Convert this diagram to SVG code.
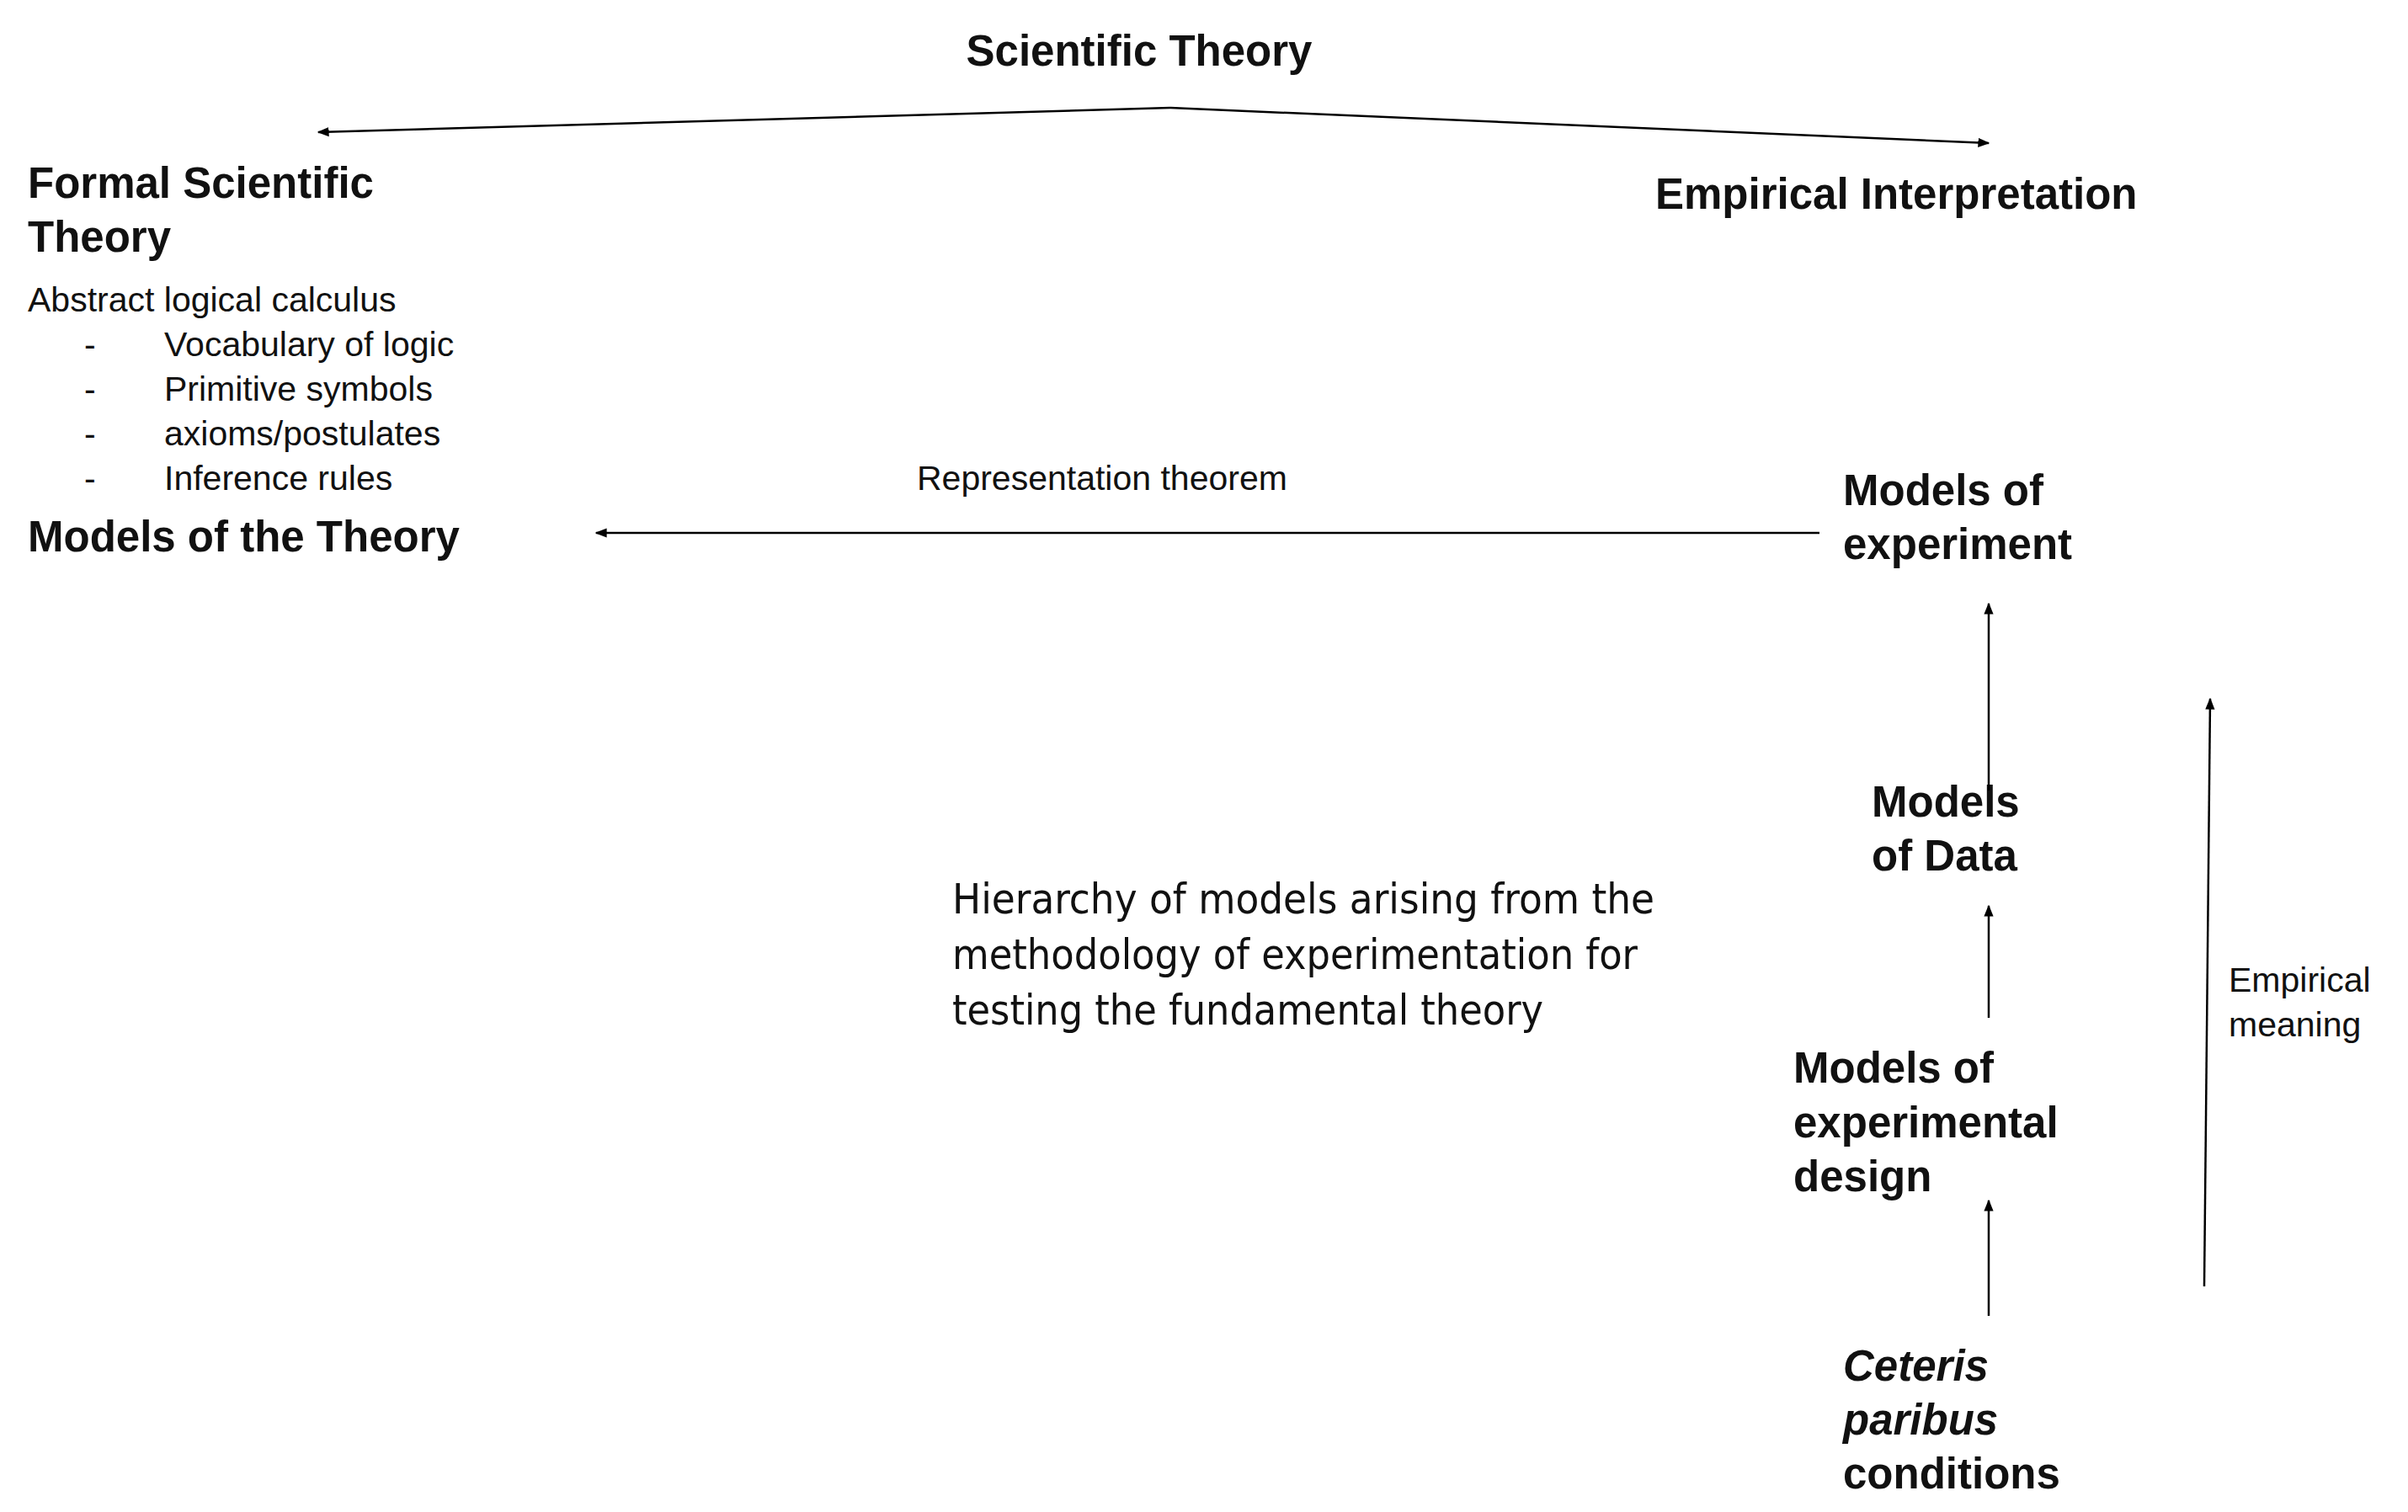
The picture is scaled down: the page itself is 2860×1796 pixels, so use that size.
<svg xmlns="http://www.w3.org/2000/svg" width="2860" height="1796" viewBox="0 0 2860 1796">
<defs>
<marker id="ah" viewBox="0 0 10 10" refX="9" refY="5" markerWidth="14" markerHeight="14" markerUnits="userSpaceOnUse" orient="auto"><path d="M0,1 L10,5 L0,9 z" fill="#000"/></marker>
<style>
.b{font-family:"Liberation Sans",Arial,sans-serif;font-weight:bold;font-size:51px;fill:#111}
.r{font-family:"Liberation Sans",Arial,sans-serif;font-size:41px;fill:#111}
.c{font-family:"DejaVu Sans Condensed","DejaVu Sans",sans-serif;font-stretch:condensed;font-size:50px;fill:#111}
.l{stroke:#000;stroke-width:2.5;fill:none;marker-end:url(#ah)}
</style>
</defs>
<rect width="2860" height="1796" fill="#fff"/>
<g id="title"><text class="b" x="1353" y="78" text-anchor="middle" font-size="56">Scientific Theory</text></g>
<g id="formal"><text class="b" x="33" y="235">Formal Scientific</text><text class="b" x="33" y="299">Theory</text></g>
<g id="calculus">
<text class="r" x="33" y="370">Abstract logical calculus</text>
<text class="r" x="100" y="423">-</text><text class="r" x="195" y="423">Vocabulary of logic</text>
<text class="r" x="100" y="476">-</text><text class="r" x="195" y="476">Primitive symbols</text>
<text class="r" x="100" y="529">-</text><text class="r" x="195" y="529">axioms/postulates</text>
<text class="r" x="100" y="582">-</text><text class="r" x="195" y="582">Inference rules</text>
</g>
<g id="empirical"><text class="b" x="1966" y="248">Empirical Interpretation</text></g>
<g id="modelsTheory"><text class="b" x="33" y="655">Models of the Theory</text></g>
<g id="modelsExperiment"><text class="b" x="2189" y="600">Models of</text><text class="b" x="2189" y="664">experiment</text></g>
<g id="modelsData"><text class="b" x="2223" y="970">Models</text><text class="b" x="2223" y="1034">of Data</text></g>
<g id="modelsDesign"><text class="b" x="2130" y="1286">Models of</text><text class="b" x="2130" y="1351">experimental</text><text class="b" x="2130" y="1415">design</text></g>
<g id="ceteris"><text class="b" x="2189" y="1640" font-style="italic">Ceteris</text><text class="b" x="2189" y="1704" font-style="italic">paribus</text><text class="b" x="2189" y="1768">conditions</text></g>
<g id="hierarchy">
<text class="c" x="1131" y="1085" textLength="834" lengthAdjust="spacingAndGlyphs">Hierarchy of models arising from the</text>
<text class="c" x="1131" y="1151" textLength="814" lengthAdjust="spacingAndGlyphs">methodology of experimentation for</text>
<text class="c" x="1131" y="1217" textLength="702" lengthAdjust="spacingAndGlyphs">testing the fundamental theory</text>
</g>
<g id="connectors">
<path class="l" d="M1390,128 L378,157"/>
<path class="l" d="M1390,128 L2362,170"/>
<path class="l" d="M2161,633 L708,633"/>
<path class="l" d="M2362,939 L2362,717"/>
<path class="l" d="M2362,1209 L2362,1076"/>
<path class="l" d="M2362,1563 L2362,1426"/>
<path class="l" d="M2618,1528 L2625,830"/>
<text class="r" x="1089" y="582">Representation theorem</text>
<text class="r" x="2647" y="1178">Empirical</text>
<text class="r" x="2647" y="1231">meaning</text>
</g>
</svg>
